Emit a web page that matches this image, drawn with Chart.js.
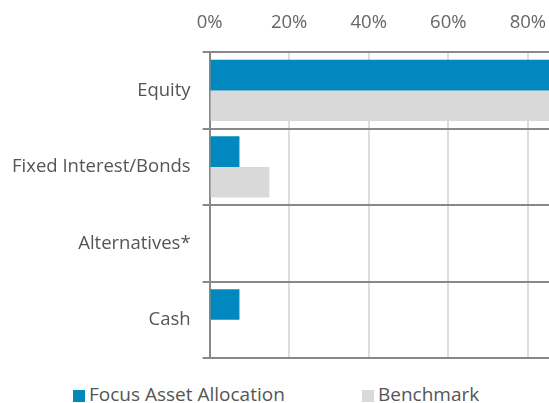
<!DOCTYPE html>
<html>
<head>
<meta charset="utf-8">
<script src="https://cdn.jsdelivr.net/npm/chart.js@4"></script>
<style>
  html, body { margin: 0; padding: 0; background: #fff; }
  #wrap { position: relative; width: 549px; height: 403px; overflow: hidden; }
  #chart { position: absolute; left: 0; top: -17px; }
  .leg { position: absolute; top: 381px; font-family: "Open Sans", sans-serif; font-size: 19px; color: #555; white-space: nowrap; }
  .leg i { display: inline-block; width: 12px; height: 12px; margin-right: 4px; vertical-align: -1px; }
</style>
</head>
<body>
<div id="wrap">
  <canvas id="chart" width="549" height="389"></canvas>
  <div class="leg" style="left:73px"><i style="background:#0088bf"></i>Focus Asset Allocation</div>
  <div class="leg" style="left:362px"><i style="background:#d9d9d9"></i>Benchmark</div>
</div>
<script>
const categories = ["Equity", "Fixed Interest/Bonds", "Alternatives*", "Cash"];
const focusValues = [88, 7.5, 0, 7.5];
const benchmarkValues = [87, 15, 0, 0];
const tickValues = [0, 20, 40, 60, 80];

// drop the extra edge padding Chart.js reserves for tick labels
function noEdgePadding(scale) {
  scale.paddingTop = 0;
  scale.paddingBottom = 0;
  scale.paddingLeft = 0;
  scale.paddingRight = 0;
}

const ctx = document.getElementById("chart").getContext("2d");
const chart = new Chart(ctx, {
  type: "bar",
  data: {
    labels: categories,
    datasets: [
      { label: "Focus Asset Allocation", data: focusValues, backgroundColor: "#0088bf" },
      { label: "Benchmark", data: benchmarkValues, backgroundColor: "#d9d9d9" }
    ]
  },
  options: {
    indexAxis: "y",
    responsive: false,
    animation: false,
    layout: { padding: { top: 11, right: 0, left: 0, bottom: 14 } },
    datasets: { bar: { barPercentage: 1, categoryPercentage: 0.8 } },
    plugins: { legend: { display: false }, tooltip: { enabled: false } },
    scales: {
      x: {
        position: "top",
        min: 0,
        max: 85.3,
        afterBuildTicks: (scale) => {
          scale.ticks = tickValues.map(v => ({ value: v }));
        },
        afterFit: noEdgePadding,
        ticks: {
          callback: (v) => v + "%",
          color: "#666",
          font: { family: "Open Sans", size: 18.5 },
          padding: 18
        },
        grid: { color: "#dddddd", lineWidth: 2, drawTicks: false },
        border: { display: false }
      },
      y: {
        afterFit: noEdgePadding,
        ticks: {
          color: "#555",
          font: { family: "Open Sans", size: 18.5 },
          padding: 12
        },
        grid: { offset: true, color: "#888888", lineWidth: 2, tickLength: 7 },
        border: { color: "#888888", width: 2 }
      }
    }
  }
});
</script>
</body>
</html>
